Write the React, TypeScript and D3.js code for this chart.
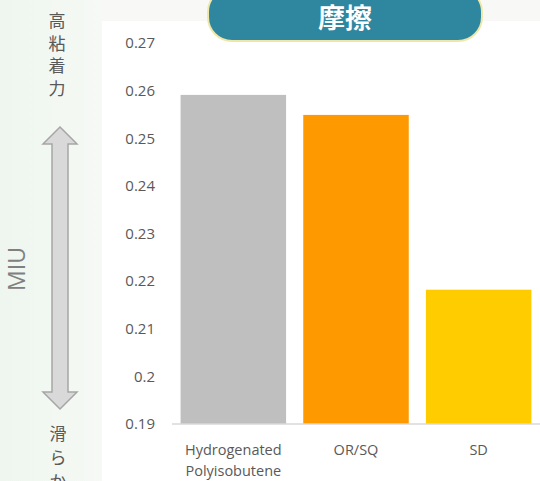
import React from 'react';
import * as d3 from 'd3';

const categories = ['Hydrogenated\nPolyisobutene', 'OR/SQ', 'SD'];
const values = [0.2591, 0.2549, 0.2182];
const barColors = ['#bfbfbf', '#ff9900', '#ffcc00'];
const ticks = [0.19, 0.2, 0.21, 0.22, 0.23, 0.24, 0.25, 0.26, 0.27];
const topLabel = ['高', '粘', '着', '力'];
const bottomLabel = ['滑', 'ら', 'か'];
const title = '摩擦';

const W = 540;
const H = 481;
const font = '"Open Sans", "Noto Sans", sans-serif';
const jpFont = '"Noto Sans CJK JP", sans-serif';

const App: React.FC = () => {
  const x = d3.scaleBand<number>()
    .domain(d3.range(categories.length))
    .range([172, 540])
    .paddingInner(0.14)
    .paddingOuter(0.07);

  const y = d3.scaleLinear().domain([0.19, 0.27]).range([424, 43]);

  // double-headed arrow
  const ax = 60;
  const arrowTop = 127;
  const arrowBot = 409;
  const headH = 17;
  const headW = 17;
  const shaftW = 8;
  const arrowPath = [
    [ax, arrowTop],
    [ax + headW, arrowTop + headH],
    [ax + shaftW, arrowTop + headH],
    [ax + shaftW, arrowBot - headH],
    [ax + headW, arrowBot - headH],
    [ax, arrowBot],
    [ax - headW, arrowBot - headH],
    [ax - shaftW, arrowBot - headH],
    [ax - shaftW, arrowTop + headH],
    [ax - headW, arrowTop + headH],
  ].map(p => p.join(',')).join(' ');

  return (
    <div style={{ position: 'fixed', left: 0, top: 0 }}>
      <svg width={W} height={H} style={{ display: 'block' }}>
        <defs>
          <linearGradient id="side" x1="0" x2="1" y1="0" y2="0">
            <stop offset="0" stopColor="#eef6ef" />
            <stop offset="1" stopColor="#f6f9f5" />
          </linearGradient>
        </defs>
        <rect x={0} y={0} width={W} height={H} fill="#f8f9f6" />
        <rect x={0} y={0} width={102} height={H} fill="url(#side)" />
        <rect x={102} y={21} width={W - 102} height={H - 21} fill="#ffffff" />

        {/* title pill */}
        <rect x={208} y={-12} width={274} height={53} rx={24} fill="#2e869f" stroke="#efe7a8" strokeWidth={2} />
        <text x={345} y={28} textAnchor="middle" fill="#ffffff" fontFamily={jpFont} fontWeight="bold" fontSize={27}>
          {title}
        </text>

        {/* left annotations */}
        {topLabel.map((c, i) => (
          <text key={c} x={57} y={27 + i * 22.5} textAnchor="middle" fill="#595959" fontFamily={jpFont} fontSize={17}>{c}</text>
        ))}
        {bottomLabel.map((c, i) => (
          <text key={c} x={58} y={440 + i * 24} textAnchor="middle" fill="#595959" fontFamily={jpFont} fontSize={17}>{c}</text>
        ))}
        <polygon points={arrowPath} fill="#d9d9d9" stroke="#a6a6a6" strokeWidth={1.5} />
        <text
          transform="translate(25,269) rotate(-90)"
          textAnchor="middle"
          fill="#808080"
          fontFamily={font}
          fontSize={23}
        >
          MIU
        </text>

        {/* y ticks */}
        {ticks.map(t => (
          <text key={t} x={155} y={y(t)} dy="0.35em" textAnchor="end" fill="#595959" fontFamily={font} fontSize={15}>
            {d3.format('')(t)}
          </text>
        ))}

        {/* bars */}
        {values.map((v, i) => (
          <rect key={i} x={x(i)} y={y(v)} width={x.bandwidth()} height={y(0.19) - y(v)} fill={barColors[i]} />
        ))}
        <line x1={172} x2={540} y1={y(0.19)} y2={y(0.19)} stroke="#d9d9d9" strokeWidth={1.5} />

        {/* category labels */}
        {categories.map((c, i) => (
          <text key={c} x={(x(i) ?? 0) + x.bandwidth() / 2} textAnchor="middle" fill="#595959" fontFamily={font} fontSize={14.5}>
            {c.split('\n').map((line, j) => (
              <tspan key={j} x={(x(i) ?? 0) + x.bandwidth() / 2} y={455 + j * 21}>{line}</tspan>
            ))}
          </text>
        ))}
      </svg>
    </div>
  );
};

export default App;
